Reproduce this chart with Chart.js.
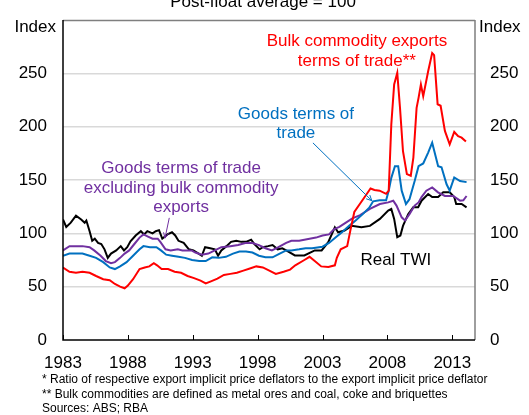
<!DOCTYPE html>
<html>
<head>
<meta charset="utf-8">
<script src="https://cdn.jsdelivr.net/npm/chart.js@4/dist/chart.umd.min.js"></script>
<style>
html,body{margin:0;padding:0;background:#fff;}
canvas{display:block;}
</style>
</head>
<body>
<canvas id="c" width="529" height="415"></canvas>
<script>
// ---- Data ----
const tickYears = [1983, 1988, 1993, 1998, 2003, 2008, 2013];
const yTicks = [0, 50, 100, 150, 200, 250];

const bulkYears = [1983.0,1983.5,1984.0,1984.5,1985.05,1985.55,1986.1,1986.6,1987.0,1987.4,1987.75,1988.0,1988.4,1988.9,1989.3,1989.65,1990.0,1990.25,1990.6,1991.1,1991.6,1992.1,1992.6,1993.1,1993.6,1994.0,1994.4,1994.9,1995.4,1995.9,1996.4,1996.9,1997.4,1997.9,1998.4,1998.9,1999.4,2000.0,2000.5,2000.9,2001.6,2002.0,2002.4,2002.9,2003.45,2003.95,2004.1,2004.4,2004.9,2005.15,2005.45,2005.9,2006.3,2006.7,2007.0,2007.4,2007.9,2008.1,2008.3,2008.52,2008.76,2008.97,2009.2,2009.5,2009.8,2010.0,2010.25,2010.4,2010.58,2010.76,2011.14,2011.45,2011.6,2011.87,2012.1,2012.43,2012.8,2013.15,2013.45,2013.72,2014.05];
const bulkValues = [68,64,63,64,63,60,57,56,52.5,50,48.5,51,57,66.5,68,69,72,70,66.5,66.5,64,63,60,58,55.6,53,55,57.5,61,62,63,65,67,69,68,65,62,64,66,70,75,78,74,69,68.5,70,77,85,88,103,120,128,135,142,140.6,140,137,140,202,239.5,250.4,217.7,177,155.5,154,171,217.7,227,239.5,228.6,252,269,267,221,219.6,196,183.5,195,191,189.7,186];

const goodsYears = [1983.0,1983.5,1984.0,1984.5,1985.05,1985.55,1986.1,1986.6,1987.0,1987.4,1987.9,1988.4,1988.9,1989.2,1989.7,1990.2,1990.55,1990.95,1991.4,1991.9,1992.4,1992.95,1993.5,1994.0,1994.5,1995.0,1995.55,1996.1,1996.6,1997.1,1997.6,1998.1,1998.6,1999.15,1999.7,2000.2,2000.6,2001.2,2001.7,2002.2,2003.0,2003.5,2004.0,2004.5,2005.05,2005.55,2006.1,2006.6,2006.9,2007.4,2007.9,2008.1,2008.3,2008.58,2008.83,2009.1,2009.43,2009.7,2010.1,2010.4,2010.76,2011.14,2011.45,2011.91,2012.17,2012.56,2012.8,2013.15,2013.6,2014.1];
const goodsValues = [79,81,81,81,79,77,73,68,66.5,69,73,79,85,88,87,87,84,80,79,78,77,75,74,74,77.5,77,78,81,83,83,82,79,77.5,77.5,81,84,84,85,86,86,87.5,91,96,101,107,112,118,124,130,131,131,140,152,163,163,140,127.5,132,149,163,165.5,175.7,185,163,162,146,140,152.4,149,148];

const exBulkYears = [1983.0,1983.5,1984.0,1984.5,1985.05,1985.4,1985.9,1986.3,1986.7,1987.0,1987.4,1987.75,1988.1,1988.5,1988.9,1989.2,1989.55,1989.9,1990.3,1990.5,1990.9,1991.3,1991.85,1992.2,1992.9,1993.2,1993.7,1994.2,1994.7,1995.2,1995.9,1996.5,1997.05,1997.6,1998.1,1998.6,1999.1,1999.6,2000.2,2000.6,2001.2,2002.0,2002.5,2003.0,2003.5,2003.9,2004.3,2004.8,2005.3,2005.9,2006.65,2007.42,2008.06,2008.45,2008.7,2009.1,2009.36,2009.7,2010.1,2010.4,2010.63,2011.0,2011.45,2011.9,2012.43,2013.07,2013.6,2013.85,2014.1];
const exBulkValues = [84,88,88,88,87,84,79,74,72,73,77,81,84,90,96,99,97,95,95,92,85,84,85,84,84,82,80,81,84,87,88,89,91,91,89,86,84,87,91,93,93,95,96,98,99,104,106,110,114,117,123,127.5,129,130.6,126,115,112,118,126,129,134,140,143,138.4,135,135,130.6,131,135];

const twiYears = [1983.0,1983.25,1983.6,1984.0,1984.4,1984.67,1984.8,1985.05,1985.25,1985.45,1985.7,1985.95,1986.2,1986.45,1986.7,1987.1,1987.45,1987.7,1987.95,1988.2,1988.6,1989.0,1989.25,1989.5,1989.9,1990.15,1990.4,1990.65,1991.05,1991.4,1991.65,1991.9,1992.3,1992.7,1993.05,1993.45,1993.7,1993.95,1994.35,1994.7,1994.95,1995.2,1995.6,1995.95,1996.35,1996.75,1997.1,1997.5,1997.75,1998.15,1998.4,1998.8,1999.15,1999.55,1999.9,2000.2,2000.87,2001.6,2002.4,2002.93,2003.44,2003.95,2004.2,2004.7,2005.24,2006.0,2006.65,2007.42,2008.06,2008.3,2008.52,2008.76,2009.0,2009.2,2009.6,2009.99,2010.37,2010.63,2011.14,2011.45,2011.91,2012.3,2012.8,2013.15,2013.3,2013.72,2014.1];
const twiValues = [113,106,110,116.5,113,110,112,102,93,95,91,90,85,77,81,84,88,84,87,92.5,98,102,99,102,100,102,103,95,99,101,98,93,91,85,84,81,79,87,86,85,79,84,88,92,93,92,92,94,90,85,87,88,89,85,86,84,79.3,79.3,84,84,91.7,105.7,101,102.6,107,105.7,107,113.5,121.3,122.8,113.5,96.4,98,107,118,124.4,124.4,130.6,136.9,134,134,138.4,138.4,134,127.5,127.5,124.4];

const pairs = (xs, ys) => xs.map((x, i) => ({x: x, y: ys[i]}));

const FONT = "'Liberation Sans', Arial, sans-serif";
const RED = '#ff0000', BLUE = '#0070c0', PURPLE = '#7030a0', BLACK = '#000000';

const labels = [
  {lines: ['Bulk commodity exports', 'terms of trade**'], x: 2005.65, y: 280, color: RED},
  {lines: ['Goods terms of', 'trade'], x: 2000.95, y: 212, color: BLUE},
  {lines: ['Goods terms of trade', 'excluding bulk commodity', 'exports'], x: 1992.1, y: 160.5, color: PURPLE},
  {lines: ['Real TWI'], x: 2008.65, y: 74.6, color: BLACK}
];
const arrows = [
  {from: [2002.26, 184.8], to: [2006.8, 130.6], color: BLUE},
  {from: [1991.19, 114.5], to: [1990.86, 95.5], color: PURPLE}
];
const footnotes = [
  '* Ratio of respective export implicit price deflators to the export implicit price deflator',
  '** Bulk commodities are defined as metal ores and coal, coke and briquettes',
  'Sources: ABS; RBA'
];

function drawArrow(ctx, x1, y1, x2, y2, color) {
  ctx.save();
  ctx.strokeStyle = color; ctx.lineWidth = 1;
  ctx.beginPath(); ctx.moveTo(x1, y1); ctx.lineTo(x2, y2); ctx.stroke();
  const a = Math.atan2(y2 - y1, x2 - x1), L = 6, W = 0.45;
  ctx.beginPath();
  ctx.moveTo(x2, y2);
  ctx.lineTo(x2 - L * Math.cos(a - W), y2 - L * Math.sin(a - W));
  ctx.moveTo(x2, y2);
  ctx.lineTo(x2 - L * Math.cos(a + W), y2 - L * Math.sin(a + W));
  ctx.stroke();
  ctx.restore();
}

const decor = {
  id: 'decor',
  afterDraw(chart) {
    const ctx = chart.ctx, ca = chart.chartArea;
    const xs = chart.scales.x, ys = chart.scales.y;
    ctx.save();
    ctx.strokeStyle = '#7f7f7f'; ctx.lineWidth = 1.5;
    ctx.beginPath();
    ctx.moveTo(ca.left, ca.top + 0.5); ctx.lineTo(ca.right, ca.top + 0.5);
    ctx.moveTo(ca.right, ca.top); ctx.lineTo(ca.right, ca.bottom);
    ctx.stroke();
    ctx.strokeStyle = '#000'; ctx.lineWidth = 1.5;
    ctx.beginPath();
    ctx.moveTo(ca.left, ca.top); ctx.lineTo(ca.left, ca.bottom);
    ctx.lineTo(ca.right, ca.bottom);
    ctx.stroke();
    ctx.lineWidth = 1;
    ctx.beginPath();
    tickYears.forEach(v => {
      const px = Math.round(xs.getPixelForValue(v)) + 0.5;
      ctx.moveTo(px, ca.bottom); ctx.lineTo(px, ca.bottom - 5);
    });
    ctx.stroke();

    ctx.font = '17px ' + FONT;
    ctx.textBaseline = 'alphabetic';
    ctx.fillStyle = '#000'; ctx.textAlign = 'center';
    ctx.fillText('Post-float average = 100', 263, 7);
    ctx.textAlign = 'right'; ctx.fillText('Index', 56, 32);
    ctx.textAlign = 'left'; ctx.fillText('Index', 479, 32);

    ctx.textAlign = 'center'; ctx.textBaseline = 'middle';
    labels.forEach(l => {
      const px = xs.getPixelForValue(l.x), py = ys.getPixelForValue(l.y);
      ctx.fillStyle = l.color;
      l.lines.forEach((t, i) => ctx.fillText(t, px, py + i * 19.5));
    });
    arrows.forEach(a => {
      drawArrow(ctx, xs.getPixelForValue(a.from[0]), ys.getPixelForValue(a.from[1]),
        xs.getPixelForValue(a.to[0]), ys.getPixelForValue(a.to[1]), a.color);
    });

    ctx.font = '12px ' + FONT;
    ctx.fillStyle = '#000'; ctx.textAlign = 'left'; ctx.textBaseline = 'middle';
    footnotes.forEach((t, i) => ctx.fillText(t, 42, 380 + i * 14.5));
    ctx.restore();
  }
};

const lineDs = (label, xs, ys, color) => ({
  label: label, data: pairs(xs, ys), borderColor: color, backgroundColor: color,
  borderWidth: 2, pointRadius: 0, tension: 0, yAxisID: 'y'
});

const noPad = s => { s.paddingTop = 0; s.paddingBottom = 0; };

new Chart(document.getElementById('c'), {
  type: 'line',
  data: {
    datasets: [
      lineDs('Bulk commodity exports terms of trade', bulkYears, bulkValues, RED),
      lineDs('Goods terms of trade', goodsYears, goodsValues, BLUE),
      lineDs('Goods terms of trade excluding bulk commodity exports', exBulkYears, exBulkValues, PURPLE),
      lineDs('Real TWI', twiYears, twiValues, BLACK)
    ]
  },
  options: {
    responsive: false,
    animation: false,
    devicePixelRatio: 1,
    layout: {padding: {top: 20, left: 0, right: 0, bottom: 0}},
    plugins: {legend: {display: false}, tooltip: {enabled: false}, title: {display: false}},
    scales: {
      x: {
        type: 'linear', min: 1983, max: 2014.75,
        afterBuildTicks: s => { s.ticks = tickYears.map(v => ({value: v})); },
        afterFit: s => { s.height = 75; },
        ticks: {
          autoSkip: false, maxRotation: 0, padding: 13,
          color: '#000', font: {family: FONT, size: 17},
          callback: v => String(v)
        },
        grid: {display: false, drawTicks: false},
        border: {display: false}
      },
      y: {
        position: 'left', min: 0, max: 300,
        afterBuildTicks: s => { s.ticks = yTicks.map(v => ({value: v})); },
        afterFit: s => { s.width = 63; noPad(s); },
        ticks: {
          padding: 16, color: '#000', font: {family: FONT, size: 17},
          callback: v => String(v)
        },
        grid: {
          drawTicks: false, lineWidth: 1.5,
          color: c => (c.tick && c.tick.value === 0) ? 'rgba(0,0,0,0)' : '#d9d9d9'
        },
        border: {display: false}
      },
      y2: {
        position: 'right', min: 0, max: 300,
        afterBuildTicks: s => { s.ticks = yTicks.map(v => ({value: v})); },
        afterFit: s => { s.width = 54; noPad(s); },
        ticks: {
          padding: 15, color: '#000', font: {family: FONT, size: 17},
          callback: v => String(v)
        },
        grid: {display: false, drawTicks: false},
        border: {display: false}
      }
    }
  },
  plugins: [decor]
});
</script>
</body>
</html>
